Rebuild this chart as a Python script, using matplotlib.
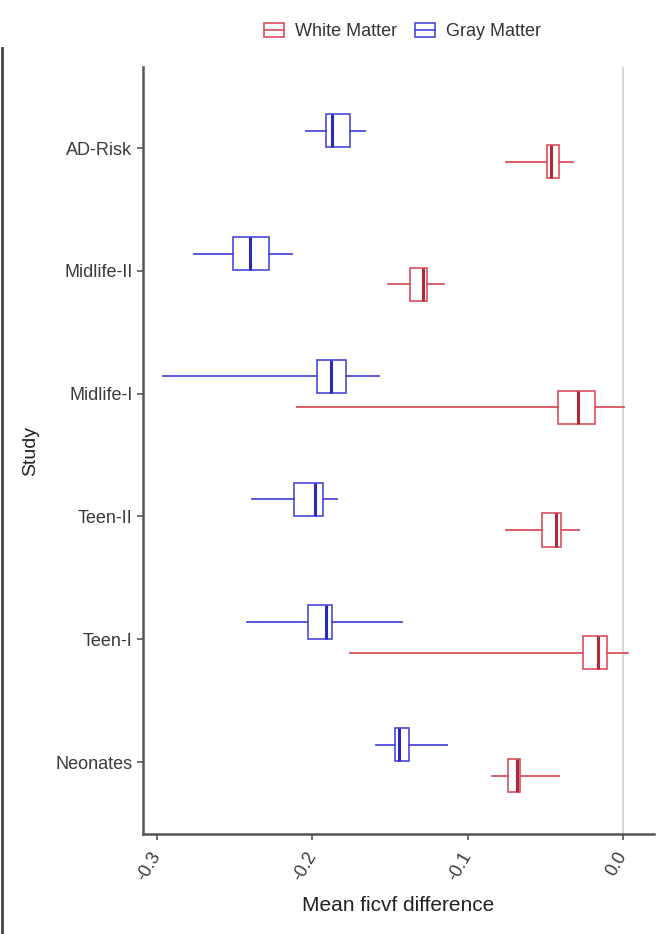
import matplotlib.pyplot as plt
from matplotlib.patches import Patch
from matplotlib.lines import Line2D
from matplotlib.legend_handler import HandlerTuple

plt.rcParams['font.family'] = ['Liberation Sans', 'DejaVu Sans']

# データ (下から上の順)
studies = ['Neonates', 'Teen-I', 'Teen-II', 'Midlife-I', 'Midlife-II', 'AD-Risk']

# Gray Matter
gm_lo = [-0.159, -0.242, -0.239, -0.296, -0.276, -0.204]
gm_q1 = [-0.147, -0.203, -0.212, -0.197, -0.251, -0.191]
gm_med = [-0.144, -0.191, -0.198, -0.188, -0.240, -0.187]
gm_q3 = [-0.138, -0.187, -0.193, -0.178, -0.228, -0.176]
gm_hi = [-0.113, -0.142, -0.184, -0.157, -0.213, -0.166]

# White Matter
wm_lo = [-0.084, -0.176, -0.075, -0.210, -0.151, -0.075]
wm_q1 = [-0.074, -0.026, -0.052, -0.042, -0.137, -0.049]
wm_med = [-0.068, -0.016, -0.043, -0.029, -0.129, -0.046]
wm_q3 = [-0.066, -0.010, -0.040, -0.018, -0.126, -0.041]
wm_hi = [-0.041, 0.003, -0.028, 0.001, -0.115, -0.032]

x_ticks = [-0.3, -0.2, -0.1, 0.0]
x_tick_labels = ['-0.3', '-0.2', '-0.1', '0.0']

wm_color = '#d9505e'
wm_dark = '#b0283a'
gm_color = '#4a4ad8'
gm_dark = '#2a2ab8'


def make_stats(lo, q1, med, q3, hi):
    return [dict(whislo=a, q1=b, med=c, q3=d, whishi=e, fliers=[])
            for a, b, c, d, e in zip(lo, q1, med, q3, hi)]


fig = plt.figure(figsize=(6.64, 9.34), dpi=100)
ax = fig.add_axes([143 / 664, 1 - 834 / 934, (654 - 143) / 664, (834 - 67) / 934])

# 0 の参照線
ax.axvline(0, color='#d0d0d0', lw=1.2, zorder=0)

base = list(range(len(studies)))
for stats, offset, col, dark in [
        (make_stats(gm_lo, gm_q1, gm_med, gm_q3, gm_hi), 0.14, gm_color, gm_dark),
        (make_stats(wm_lo, wm_q1, wm_med, wm_q3, wm_hi), -0.11, wm_color, wm_dark)]:
    ax.bxp(stats, positions=[b + offset for b in base], widths=0.27,
           orientation='horizontal', showcaps=False, showfliers=False,
           patch_artist=True,
           boxprops=dict(facecolor='white', edgecolor=col, lw=1.2),
           whiskerprops=dict(color=col, lw=1.3),
           medianprops=dict(color=dark, lw=2.2))

ax.set_xlim(-0.309, 0.020)
ax.set_ylim(-0.586, 5.66)
ax.set_yticks(base)
ax.set_yticklabels(studies, fontsize=13, color='#3a3a3a')
ax.set_xticks(x_ticks)
ax.set_xticklabels(x_tick_labels, fontsize=13, color='#3a3a3a',
                   rotation=60, ha='right', va='center', rotation_mode='anchor')
ax.tick_params(axis='x', pad=10)
ax.tick_params(length=4, width=1.2, color='#555555')

for side in ['top', 'right']:
    ax.spines[side].set_visible(False)
for side in ['left', 'bottom']:
    ax.spines[side].set_color('#555555')
    ax.spines[side].set_linewidth(1.8)

ax.set_xlabel('Mean ficvf difference', fontsize=15, color='#222222', labelpad=8)
ax.set_ylabel('Study', fontsize=14, color='#222222', labelpad=12)

# 凡例
handles = [
    (Patch(facecolor='white', edgecolor=wm_color, lw=1.2),
     Line2D([], [], color=wm_color, lw=1.2)),
    (Patch(facecolor='white', edgecolor=gm_color, lw=1.2),
     Line2D([], [], color=gm_color, lw=1.2)),
]
fig.legend(handles, ['White Matter', 'Gray Matter'],
           handler_map={tuple: HandlerTuple(ndivide=1)},
           loc='center', bbox_to_anchor=(0.606, 0.966), ncol=2, frameon=False,
           fontsize=13, handlelength=1.1, handleheight=0.8,
           columnspacing=1.0, handletextpad=0.6, labelcolor='#333333')

# 左端の枠線
fig.add_artist(Line2D([0.003, 0.003], [0.0, 1 - 48 / 934],
                      transform=fig.transFigure, color='#444444', lw=2))

fig.savefig('out.png', dpi=100)
